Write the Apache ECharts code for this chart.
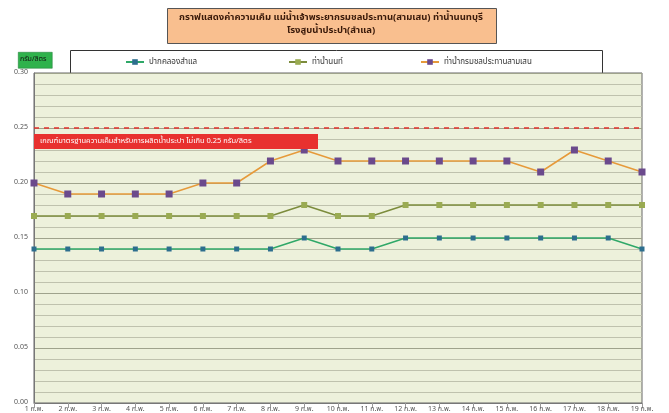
<!DOCTYPE html>
<html><head><meta charset="utf-8">
<script src="https://cdn.jsdelivr.net/npm/echarts@6/dist/echarts.min.js"></script>
<style>html,body{margin:0;padding:0;background:#fff}#c{width:669px;height:413px}</style>
</head><body><div id="c"></div>
<script>
var categories = ['1 ก.พ.','2 ก.พ.','3 ก.พ.','4 ก.พ.','5 ก.พ.','6 ก.พ.','7 ก.พ.','8 ก.พ.','9 ก.พ.','10 ก.พ.','11 ก.พ.','12 ก.พ.','13 ก.พ.','14 ก.พ.','15 ก.พ.','16 ก.พ.','17 ก.พ.','18 ก.พ.','19 ก.พ.'];
var samlae   = [0.14,0.14,0.14,0.14,0.14,0.14,0.14,0.14,0.15,0.14,0.14,0.15,0.15,0.15,0.15,0.15,0.15,0.15,0.14];
var nonthaburi = [0.17,0.17,0.17,0.17,0.17,0.17,0.17,0.17,0.18,0.17,0.17,0.18,0.18,0.18,0.18,0.18,0.18,0.18,0.18];
var samsen   = [0.20,0.19,0.19,0.19,0.19,0.20,0.20,0.22,0.23,0.22,0.22,0.22,0.22,0.22,0.22,0.21,0.23,0.22,0.21];
var seriesNames = ['ปากคลองสำแล','ท่าน้ำนนท์','ท่าน้ำกรมชลประทานสามเสน'];
var titleText = 'กราฟแสดงค่าความเค็ม แม่น้ำเจ้าพระยากรมชลประทาน(สามเสน) ท่าน้ำนนทบุรี\nโรงสูบน้ำประปา(สำแล)';
var standardValue = 0.25;
var FONT = '"Noto Sans Thai","Noto Sans","DejaVu Sans",sans-serif';

var chart = echarts.init(document.getElementById('c'));
function mkLegend(name, left){
  return {data:[name], left:left, top:53, itemWidth:18, itemHeight:7, itemGap:4,
    textStyle:{fontSize:8, color:'#333', fontFamily:FONT}};
}
chart.setOption({
  animation:false,
  backgroundColor:'#fff',
  textStyle:{fontFamily:FONT},
  legend:[mkLegend(seriesNames[0],120), mkLegend(seriesNames[1],283), mkLegend(seriesNames[2],415)],
  graphic:[
    {type:'rect', left:167, top:8, shape:{width:329,height:35}, style:{fill:'#f9bf8f',stroke:'#555',lineWidth:1}},
    {type:'text', x:331, y:12, style:{text:titleText, fontSize:9.5, fontWeight:'bold', fill:'#3a1a0a', lineHeight:13, align:'center', verticalAlign:'top', fontFamily:FONT}},
    {type:'rect', left:68, top:48, shape:{width:532,height:23}, style:{fill:'none',stroke:'#333',lineWidth:1}, z:-1},
    {type:'rect', left:18, top:52, shape:{width:34,height:16}, style:{fill:'#2fb24c',stroke:'#1a7a30',lineWidth:0.5}},
    {type:'text', left:20, top:56, style:{text:'กรัม/ลิตร', fontSize:7, fill:'#111', fontFamily:FONT}},
    {type:'rect', left:34, top:134, shape:{width:284,height:15}, style:{fill:'#e8312f'}, z:10},
    {type:'text', left:40, top:137, style:{text:'เกณฑ์มาตรฐานความเค็มสำหรับการผลิตน้ำประปา ไม่เกิน 0.25 กรัม/ลิตร', fontSize:7.5, fill:'#fff', fontFamily:FONT}, z:11}
  ],
  grid:{left:34, right:27, top:73, bottom:7, show:true, backgroundColor:'#edf1db', borderColor:'#666', borderWidth:1},
  xAxis:{type:'category', data:categories, boundaryGap:false,
    axisLine:{lineStyle:{color:'#777'}}, axisTick:{show:true, lineStyle:{color:'#999'}},
    axisLabel:{fontSize:7, color:'#555', margin:3, interval:0}},
  yAxis:{type:'value', min:0, max:0.30, interval:0.01,
    axisLine:{show:true, lineStyle:{color:'#777'}}, axisTick:{show:false},
    axisLabel:{fontSize:7, color:'#555', margin:6,
      formatter:function(v){var r=Math.round(v*100); return r%5===0 ? (r/100).toFixed(2) : '';}},
    splitLine:{show:true, lineStyle:{color:['#9fa38c','#bfc2ad','#bfc2ad','#bfc2ad','#bfc2ad'], width:1}}},
  series:[
    {name:seriesNames[0], type:'line', data:samlae, symbol:'rect', symbolSize:5,
      lineStyle:{color:'#2fa868', width:1.5}, itemStyle:{color:'#2d6e8e'}},
    {name:seriesNames[1], type:'line', data:nonthaburi, symbol:'rect', symbolSize:6,
      lineStyle:{color:'#7c8c3c', width:1.5}, itemStyle:{color:'#9aab52'}},
    {name:seriesNames[2], type:'line', data:samsen, symbol:'rect', symbolSize:7,
      lineStyle:{color:'#e69a3a', width:1.5}, itemStyle:{color:'#6b4a8c'},
      markLine:{silent:true, symbol:'none', label:{show:false},
        lineStyle:{color:'#e0302c', type:[5,5], width:1.5},
        data:[{yAxis:standardValue}]}}
  ]
});
</script></body></html>
